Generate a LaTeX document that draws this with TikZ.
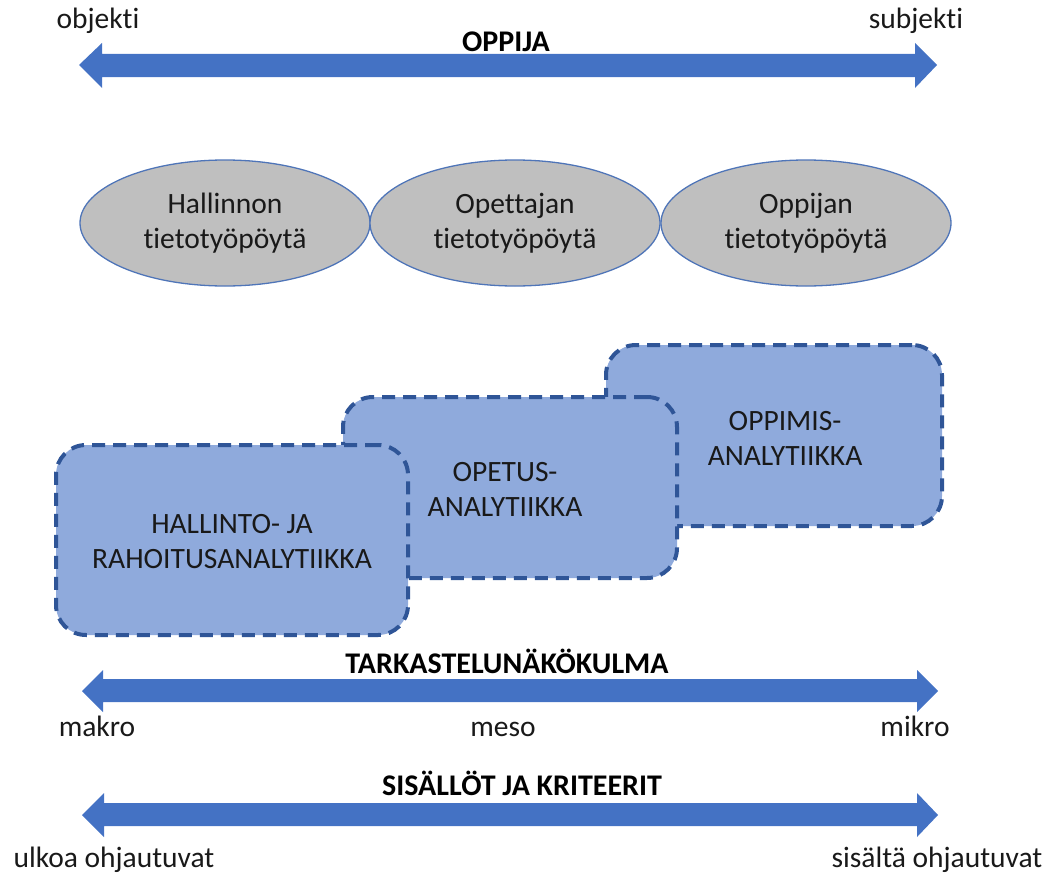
\documentclass[tikz,border=0pt]{standalone}
\usepackage{fontspec}
\setmainfont{Carlito}[Ligatures={NoCommon}]
\usetikzlibrary{shapes.geometric}
\definecolor{arrowblue}{HTML}{4472C4}
\definecolor{boxfill}{HTML}{8FAADC}
\definecolor{boxline}{HTML}{2F5597}
\definecolor{ovalfill}{HTML}{BFBFBF}
\definecolor{ovalline}{HTML}{4F75B8}
\tikzset{
  txt/.style={font=\fontsize{29.5}{35}\selectfont, align=center, inner sep=0pt, text=black!90},
  lbl/.style={txt, text height=20pt, text depth=6pt},
  head/.style={font=\fontsize{30}{34}\selectfont\bfseries, inner sep=0pt,
    text height=20pt, text depth=2pt},
  oval/.style={ellipse, draw=ovalline, line width=1.3pt, fill=ovalfill,
    minimum width=290pt, minimum height=126pt, inner sep=0pt},
  areabox/.style={draw=boxline, fill=boxfill, line width=4pt,
    dash pattern=on 13pt off 8pt, rounded corners=30pt, inner sep=0pt},
  blockarrow/.style={fill=arrowblue, draw=none}
}
\begin{document}
\begin{tikzpicture}[x=1pt,y=-1pt]
\useasboundingbox (0,0) rectangle (1048,875);

% top scale: learner as object ... subject
\fill[blockarrow] (79,65) -- (102,43) -- (102,54) -- (915,54) -- (915,43) -- (937,65)
  -- (915,88) -- (915,77) -- (102,77) -- (102,88) -- cycle;
\node[lbl] (objekti) at (98,22) {objekti};
\node[lbl] (subjekti) at (916,22) {subjekti};
\node[head] (oppija) at (506,43) {OPPIJA};

% dashboards
\node[oval, txt] (hallinnon) at (225,223) {Hallinnon\\tietotyöpöytä};
\node[oval, txt] (opettajan) at (515,223) {Opettajan\\tietotyöpöytä};
\node[oval, txt] (oppijan) at (806,223) {Oppijan\\tietotyöpöytä};

% analytics levels, back to front
\node[areabox, minimum width=336pt, minimum height=181pt] (oppimis) at (774,435.5) {};
\node[txt] (oppimistxt) at (785,438) {OPPIMIS-\\ANALYTIIKKA};
\node[areabox, minimum width=334pt, minimum height=181pt] (opetus) at (510,487.5) {};
\node[txt] (opetustxt) at (505,489) {OPETUS-\\ANALYTIIKKA};
\node[areabox, minimum width=352pt, minimum height=190pt] (hallinto) at (232,540) {};
\node[txt] (hallintotxt) at (232,542) {HALLINTO- JA\\RAHOITUSANALYTIIKKA};

% middle scale: viewpoint
\fill[blockarrow] (82,691) -- (103,670) -- (103,679) -- (917,679) -- (917,670) -- (938,691)
  -- (917,712) -- (917,702) -- (103,702) -- (103,712) -- cycle;
\node[head] (tarkastelu) at (507,664) {TARKASTELUNÄKÖKULMA};
\node[lbl] (makro) at (97,729) {makro};
\node[lbl] (meso) at (503,729) {meso};
\node[lbl] (mikro) at (915,729) {mikro};

% bottom scale: contents and criteria
\fill[blockarrow] (82,815) -- (104,793) -- (104,803) -- (917,803) -- (917,793) -- (938,815)
  -- (917,837) -- (917,826) -- (104,826) -- (104,837) -- cycle;
\node[head] (sisallot) at (522,786) {SISÄLLÖT JA KRITEERIT};
\node[lbl] (ulkoa) at (114,860) {ulkoa ohjautuvat};
\node[lbl] (sisalta) at (937,860) {sisältä ohjautuvat};
\end{tikzpicture}
\end{document}
